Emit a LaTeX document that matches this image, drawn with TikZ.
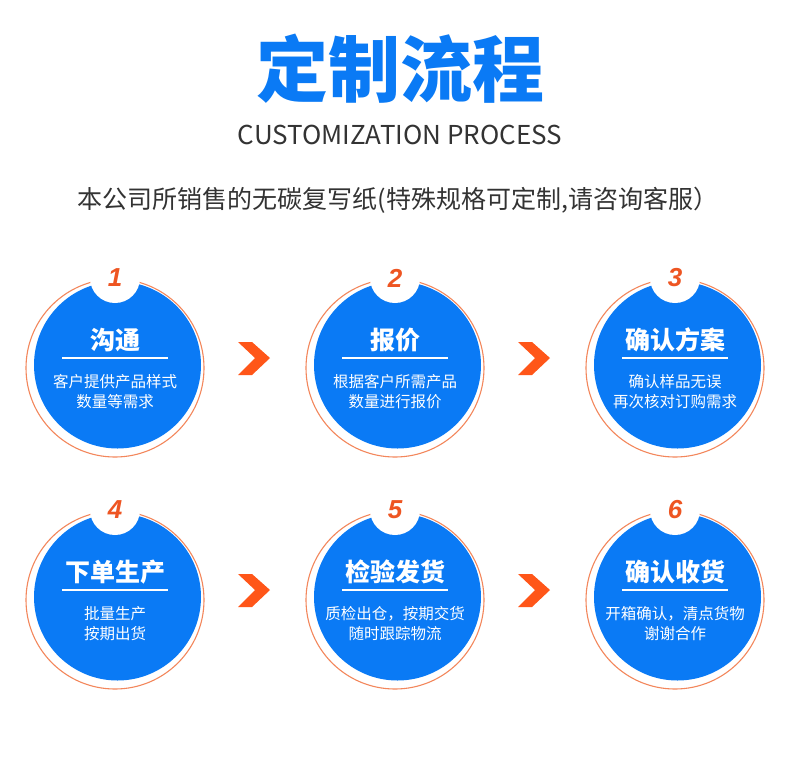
\documentclass[tikz,border=0pt]{standalone}
\usepackage{fontspec}
\setmainfont{Noto Sans CJK SC}
\newfontfamily\numfont{Liberation Sans}
\usetikzlibrary{calc,positioning}
\definecolor{stepblue}{HTML}{0A7AF5}
\definecolor{ringorange}{HTML}{F3875C}
\definecolor{numorange}{HTML}{EE5522}
\definecolor{chevorange}{HTML}{FF5619}
\definecolor{textgray}{HTML}{333333}

\tikzset{
  headtext/.style={text=white,font=\fontsize{25}{28}\selectfont\bfseries,inner sep=0pt},
  desctext/.style={text=white,font=\fontsize{15.5}{18}\selectfont,inner sep=0pt},
  numtext/.style={text=numorange,font=\numfont\fontsize{26}{28}\selectfont\bfseries\itshape,inner sep=0pt},
}

\begin{document}
\begin{tikzpicture}[x=1pt,y=-1pt]
  \useasboundingbox[fill=white] (0,0) rectangle (790,758);

  \node[text=stepblue,font=\fontsize{72}{76}\selectfont\bfseries,inner sep=0pt] (maintitle) at (400,69) {定制流程};
  \node[text=textgray,font=\fontsize{26}{28}\selectfont,inner sep=0pt] (engtitle) at (400,135) {CUSTOMIZATION PROCESS};
  \node[text=textgray,font=\fontsize{25}{28}\selectfont,inner sep=0pt] (subtitle) at (398,200) {本公司所销售的无碳复写纸(特殊规格可定制,请咨询客服）};

  % the six steps
  \foreach \n/\col/\row/\head/\lineA/\lineB in {
      1/0/0/沟通/客户提供产品样式/数量等需求,
      2/1/0/报价/根据客户所需产品/数量进行报价,
      3/2/0/确认方案/确认样品无误/再次核对订购需求,
      4/0/1/下单生产/批量生产/按期出货,
      5/1/1/检验发货/质检出仓，按期交货/随时跟踪物流,
      6/2/1/确认收货/开箱确认，清点货物/谢谢合作}{
    \pgfmathsetmacro{\cx}{115+280*\col}
    \pgfmathsetmacro{\cy}{365+232*\row}
    \coordinate (c\n) at (\cx,\cy);
    \draw[ringorange,line width=1.1pt] ($(c\n)+(0,3)$) circle[radius=89];
    \fill[stepblue] ($(c\n)+(2.5,0)$) circle[radius=83.5];
    \fill[white] ($(c\n)+(0,-87)$) circle[radius=25];
    \node[numtext] (num\n) at ($(c\n)+(0,-87)$) {\n};
    \node[headtext] (head\n) at ($(c\n)+(0,-25)$) {\head};
    \draw[white,line width=2pt] ($(c\n)+(-53,-7)$) -- ($(c\n)+(53,-7)$);
    \node[desctext] (descA\n) at ($(c\n)+(0,17)$) {\lineA};
    \node[desctext] (descB\n) at ($(c\n)+(0,37)$) {\lineB};
  }

  % chevrons between the steps
  \foreach \chx/\chy in {254/358,534/358,254/590,534/590}{
    \fill[chevorange] (\chx-16,\chy-16) -- (\chx-2,\chy-16) -- (\chx+16,\chy) -- (\chx-2,\chy+17)
      -- (\chx-16,\chy+17) -- (\chx+1,\chy) -- cycle;
  }
\end{tikzpicture}
\end{document}
